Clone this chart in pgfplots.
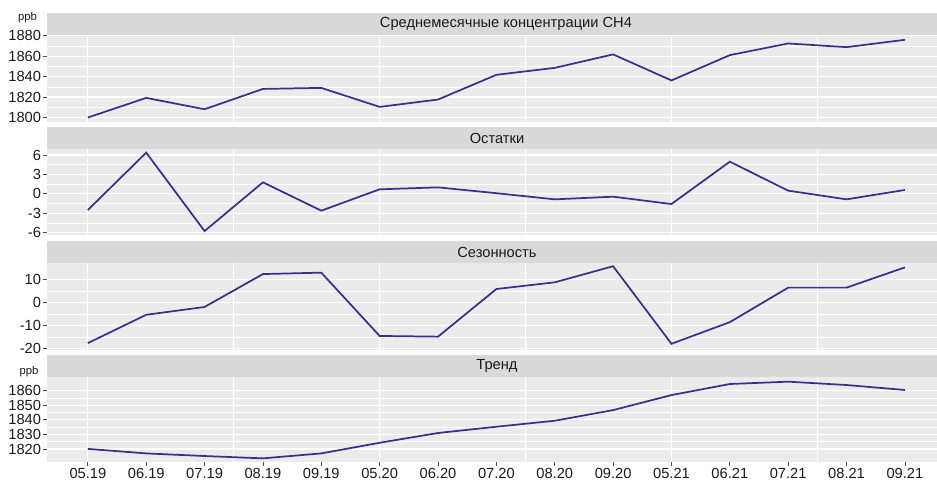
\documentclass[border=0pt]{standalone}
\usepackage{fontspec}
\setmainfont{Liberation Sans}
\usepackage{pgfplots}
\pgfplotsset{compat=1.18}
\definecolor{panel}{HTML}{EBEBEB}
\definecolor{strip}{HTML}{D9D9D9}
\definecolor{linecol}{HTML}{3B2F8C}
\definecolor{txt}{HTML}{1A1A1A}

\pgfplotsset{
  facet/.style={
    anchor=north west, scale only axis, width=667.5pt,
    xmin=-0.7, xmax=14.55,
    axis background/.style={fill=panel},
    axis line style={draw=none},
    clip=false,
    tick align=outside, major tick length=3.3pt, minor tick length=0pt,
    tick style={color=black!70, line width=0.6pt},
    xtick=\empty, xtick pos=bottom, ytick pos=left,
    extra x ticks={0,2.5,5,7.5,10,12.5},
    extra x tick labels={},
    extra x tick style={grid=major, major tick length=0pt},
    ymajorgrids, yminorgrids, minor y tick num=1,
    major grid style={white, line width=0.9pt},
    minor grid style={white, line width=0.45pt},
    /pgf/number format/assume math mode=true,
    /pgf/number format/1000 sep={},
    ticklabel style={font=\fontsize{11}{13}\selectfont, text=txt, inner sep=1pt},
  },
  ch4line/.style={color=linecol, line width=1.3pt},
}
\newcommand{\strip}[2]{%
  \fill[strip] (rel axis cs:0,1) rectangle ([yshift=16.5pt]rel axis cs:1,1);
  \node[font=\fontsize{11}{13}\selectfont, text=txt] at ([yshift=8.25pt]rel axis cs:#1,1) {#2};
}

\begin{document}
\begin{tikzpicture}
\useasboundingbox (0,0) rectangle (702.75pt,-360.75pt);

% monthly means
\begin{axis}[facet, at={(35.25pt,-26.25pt)}, height=65.25pt,
  ymin=1795.6, ymax=1880.8, ytick={1800,1820,...,1880}]
\addplot[ch4line] coordinates {
 (0,1800) (1,1819.2) (2,1808.1) (3,1828) (4,1829) (5,1810.4) (6,1817.6)
 (7,1841.8) (8,1848.6) (9,1861.8) (10,1836.3) (11,1861.1) (12,1872.5)
 (13,1868.9) (14,1876.1)};
\strip{0.5157}{Среднемесячные концентрации CH4}
\end{axis}

% residuals
\begin{axis}[facet, at={(35.25pt,-111.75pt)}, height=64.5pt,
  ymin=-6.36, ymax=6.93, ytick={-6,-3,0,3,6}]
\addplot[ch4line] coordinates {
 (0,-2.5) (1,6.37) (2,-5.75) (3,1.78) (4,-2.6) (5,0.7) (6,1.0) (7,0.1)
 (8,-0.85) (9,-0.44) (10,-1.57) (11,4.97) (12,0.49) (13,-0.85) (14,0.6)};
\strip{0.5056}{Остатки}
\end{axis}

% seasonality
\begin{axis}[facet, at={(35.25pt,-197.25pt)}, height=65.25pt,
  ymin=-20.7, ymax=17.1, ytick={-20,-10,0,10}]
\addplot[ch4line] coordinates {
 (0,-17.7) (1,-5.4) (2,-2.0) (3,12.3) (4,12.9) (5,-14.6) (6,-14.9) (7,5.8)
 (8,8.7) (9,15.7) (10,-18.0) (11,-8.6) (12,6.4) (13,6.4) (14,15.2)};
\strip{0.5056}{Сезонность}
\end{axis}

% trend
\begin{axis}[facet, at={(35.25pt,-282.75pt)}, height=63.75pt,
  ymin=1811.1, ymax=1869.4, ytick={1820,1830,...,1860},
  xtick={0,...,14},
  xticklabels={05.19,06.19,07.19,08.19,09.19,05.20,06.20,07.20,08.20,09.20,05.21,06.21,07.21,08.21,09.21}]
\addplot[ch4line] coordinates {
 (0,1820.1) (1,1817) (2,1815.2) (3,1813.6) (4,1817) (5,1824.3) (6,1831)
 (7,1835.3) (8,1839.4) (9,1846.7) (10,1857) (11,1864.6) (12,1866.2)
 (13,1863.9) (14,1860.5)};
\strip{0.5056}{Тренд}
\end{axis}

\node[font=\fontsize{8.5}{10}\selectfont, text=txt] at (20.6pt,-13.5pt) {ppb};
\node[font=\fontsize{8.5}{10}\selectfont, text=txt] at (21.75pt,-279pt) {ppb};
\end{tikzpicture}
\end{document}
